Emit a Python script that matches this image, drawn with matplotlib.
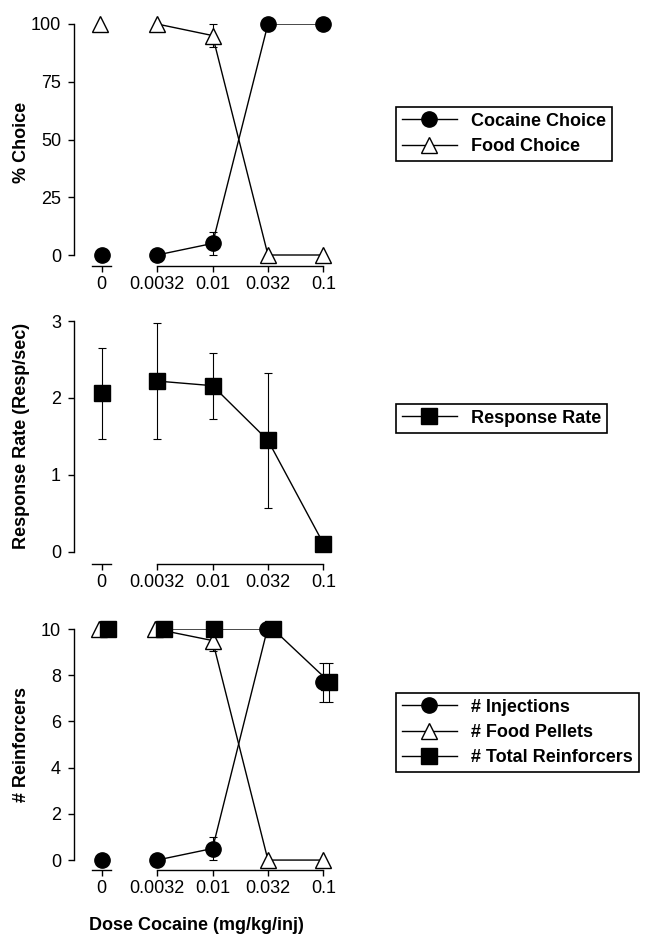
import matplotlib
matplotlib.use('Agg')
import matplotlib.pyplot as plt
from matplotlib.lines import Line2D

plt.rcParams['font.family'] = ['Liberation Sans', 'DejaVu Sans']

# doses (mg/kg/inj), plotted at evenly spaced positions
dose_labels = ['0', '0.0032', '0.01', '0.032', '0.1']

# top panel: % choice
cocaine_choice = [0, 0, 5, 100, 100]
cocaine_choice_err = [0, 0, 5, 0, 0]
food_choice = [100, 100, 95, 0, 0]
food_choice_err = [0, 0, 5, 0, 0]

# middle panel: response rate
resp_rate = [2.06, 2.22, 2.16, 1.45, 0.11]
resp_rate_err = [0.59, 0.75, 0.43, 0.88, 0.03]

# bottom panel: number of reinforcers
injections = [0, 0, 0.5, 10, 7.7]
injections_err = [0, 0, 0.5, 0, 0.85]
food_pellets = [10, 10, 9.5, 0, 0]
food_pellets_err = [0, 0, 0.45, 0, 0]
total_reinf = [10, 10, 10, 10, 7.7]
total_reinf_err = [0, 0, 0, 0, 0.85]

FS = 13
W, H = 645, 935
fig = plt.figure(figsize=(W / 100, H / 100), dpi=100)

def px_axes(top, bottom):
    left, right = 74, 340
    return fig.add_axes([left / W, 1 - bottom / H, (right - left) / W, (bottom - top) / H])

def style(ax, ylim, yticks):
    ax.set_xlim(-0.5, 4.3)
    ax.set_ylim(ylim)
    ax.spines[['top', 'right']].set_visible(False)
    for s in ['left', 'bottom']:
        ax.spines[s].set_linewidth(1.0)
    ax.spines['left'].set_bounds(0, yticks[-1])
    ax.spines['bottom'].set_bounds(1, 4)
    # short axis piece for the zero dose
    ax.plot([-0.18, 0.16], [ylim[0], ylim[0]], color='black', lw=1.0, clip_on=False)
    ax.set_xticks(range(5), dose_labels)
    ax.set_yticks(yticks)
    ax.tick_params(axis='both', direction='out', length=4.3, width=1.0, labelsize=FS)
    ax.tick_params(axis='y', pad=5)
    ax.tick_params(axis='x', pad=3)

def draw(ax, y, err, marker, fc, ms, shift=None, nseg=3):
    x = list(range(5))
    if shift is not None:
        x = [a + b for a, b in zip(x, shift)]
    ax.plot(x[1:2 + nseg], y[1:2 + nseg], color='black', lw=1.0, zorder=2)
    ax.errorbar(x, y, yerr=err, fmt='none', ecolor='black', elinewidth=0.8,
                capsize=3, capthick=0.8, zorder=3, clip_on=False)
    ax.plot(x, y, ls='none', marker=marker, ms=ms, mfc=fc, mec='black', mew=1.0,
            zorder=4, clip_on=False)

def legend(handles, labels, x, y):
    lg = fig.legend(handles, labels, loc='upper left', bbox_to_anchor=(x / W, 1 - y / H),
                    borderaxespad=0, frameon=True, fancybox=False, edgecolor='black',
                    framealpha=1, handlelength=3.05, handletextpad=0.8, borderpad=0.32,
                    labelspacing=0.45, numpoints=1, prop=dict(weight='bold', size=FS))
    lg.get_frame().set_linewidth(1.2)

def h(marker, fc, ms):
    return Line2D([], [], color='black', lw=1.0, marker=marker, ms=ms, mfc=fc, mec='black', mew=1.0)

# panel 1
ax1 = px_axes(24, 266)
style(ax1, (-4.76, 100), [0, 25, 50, 75, 100])
draw(ax1, food_choice, food_choice_err, '^', 'white', 12, [-0.03, 0, 0, 0, 0])
draw(ax1, cocaine_choice, cocaine_choice_err, 'o', 'black', 11)
fig.text(22 / W, 1 - 142 / H, '% Choice', rotation=90, ha='center', va='center',
         fontsize=FS, fontweight='bold')
legend([h('o', 'black', 11), h('^', 'white', 12)], ['Cocaine Choice', 'Food Choice'], 396, 107)

# panel 2
ax2 = px_axes(321, 564)
style(ax2, (-0.156, 3), [0, 1, 2, 3])
draw(ax2, resp_rate, resp_rate_err, 's', 'black', 12)
fig.text(22 / W, 1 - 436 / H, 'Response Rate (Resp/sec)', rotation=90, ha='center',
         va='center', fontsize=FS, fontweight='bold')
legend([h('s', 'black', 12)], ['Response Rate'], 396, 404)

# panel 3
ax3 = px_axes(629, 870)
style(ax3, (-0.43, 10), [0, 2, 4, 6, 8, 10])
draw(ax3, food_pellets, food_pellets_err, '^', 'white', 12, [-0.04, -0.03, 0, 0, 0])
draw(ax3, injections, injections_err, 'o', 'black', 11, [0, 0, 0, -0.01, -0.01], nseg=2)
draw(ax3, total_reinf, total_reinf_err, 's', 'black', 12, [0.11, 0.13, 0.02, 0.09, 0.11])
fig.text(22 / W, 1 - 744 / H, '# Reinforcers', rotation=90, ha='center', va='center',
         fontsize=FS, fontweight='bold')
legend([h('o', 'black', 11), h('^', 'white', 12), h('s', 'black', 12)],
       ['# Injections', '# Food Pellets', '# Total Reinforcers'], 396, 693)

fig.text(196 / W, 1 - 925 / H, 'Dose Cocaine (mg/kg/inj)', ha='center', va='center',
         fontsize=FS, fontweight='bold')

fig.savefig('out.png', dpi=100)
